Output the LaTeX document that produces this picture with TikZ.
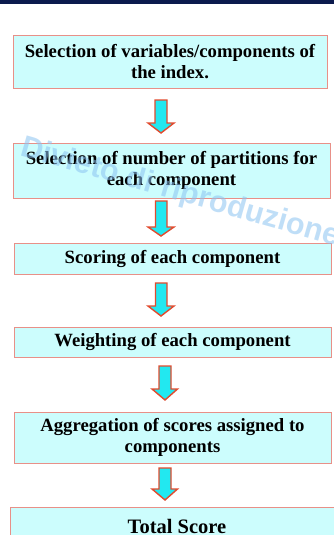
\documentclass[tikz,border=0pt]{standalone}
\usepackage{fontspec}
\setmainfont{Liberation Serif}
\newfontfamily\wmfont{Liberation Sans}
\definecolor{boxfill}{HTML}{CCFDFD}
\definecolor{boxline}{HTML}{E89088}
\definecolor{arrfill}{HTML}{22E8F0}
\definecolor{arrline}{HTML}{E24A2E}
\definecolor{navy}{HTML}{0B1A4D}
\definecolor{wmblue}{HTML}{8CC4F2}
\begin{document}
\begin{tikzpicture}[x=1pt,y=-1pt,
  stepbox/.style={draw=boxline, line width=0.9pt, fill=boxfill, inner sep=0pt,
    align=center, font=\fontsize{18.7}{21.5}\selectfont\bfseries, text=black},
  blockarrow/.style={draw=arrline, line width=1.4pt, fill=arrfill, line join=miter}]
\useasboundingbox (0,0) rectangle (334,535);
\fill[white] (0,0) rectangle (334,535);
\fill[navy] (0,0) rectangle (334,4);

\node[stepbox, minimum width=314pt, minimum height=53pt] (b1) at (170,61.5)
  {Selection of variables/components of\\the index.};
\node[stepbox, minimum width=317pt, minimum height=55pt] (b2) at (171.5,170.5)
  {Selection of number of partitions for\\each component};
\node[stepbox, minimum width=317pt, minimum height=31pt] (b3) at (172.5,258.5)
  {Scoring of each component};
\node[stepbox, minimum width=317pt, minimum height=30pt] (b4) at (172.5,342)
  {Weighting of each component};
\node[stepbox, minimum width=317pt, minimum height=51pt] (b5) at (172.5,437.5)
  {Aggregation of scores assigned to\\components};
\node[stepbox, minimum width=334pt, minimum height=38pt,
  font=\fontsize{20.5}{24}\selectfont\bfseries] (b6) at (177,526) {Total Score};

% block arrows
\draw[blockarrow] (155,100) -- (167,100) -- (167,123) -- (174,123) -- (161,133)
  -- (148,123) -- (155,123) -- cycle;
\draw[blockarrow] (155.5,201) -- (167,201) -- (167,227) -- (174,227) -- (161,236)
  -- (148,227) -- (155.5,227) -- cycle;
\draw[blockarrow] (155.5,283) -- (167,283) -- (167,306) -- (174,306) -- (161,316)
  -- (148,306) -- (155.5,306) -- cycle;
\draw[blockarrow] (159,366) -- (171,366) -- (171,389) -- (177.5,389) -- (165,400)
  -- (152,389) -- (159,389) -- cycle;
\draw[blockarrow] (159,468) -- (171,468) -- (171,489) -- (177.5,489) -- (165,500)
  -- (152,489) -- (159,489) -- cycle;

% watermark
\node[text=wmblue, opacity=0.55, rotate=-16, font=\wmfont\fontsize{30.5}{30.5}\selectfont\bfseries]
  (wm) at (180,193) {Divieto di riproduzione};
\end{tikzpicture}
\end{document}
